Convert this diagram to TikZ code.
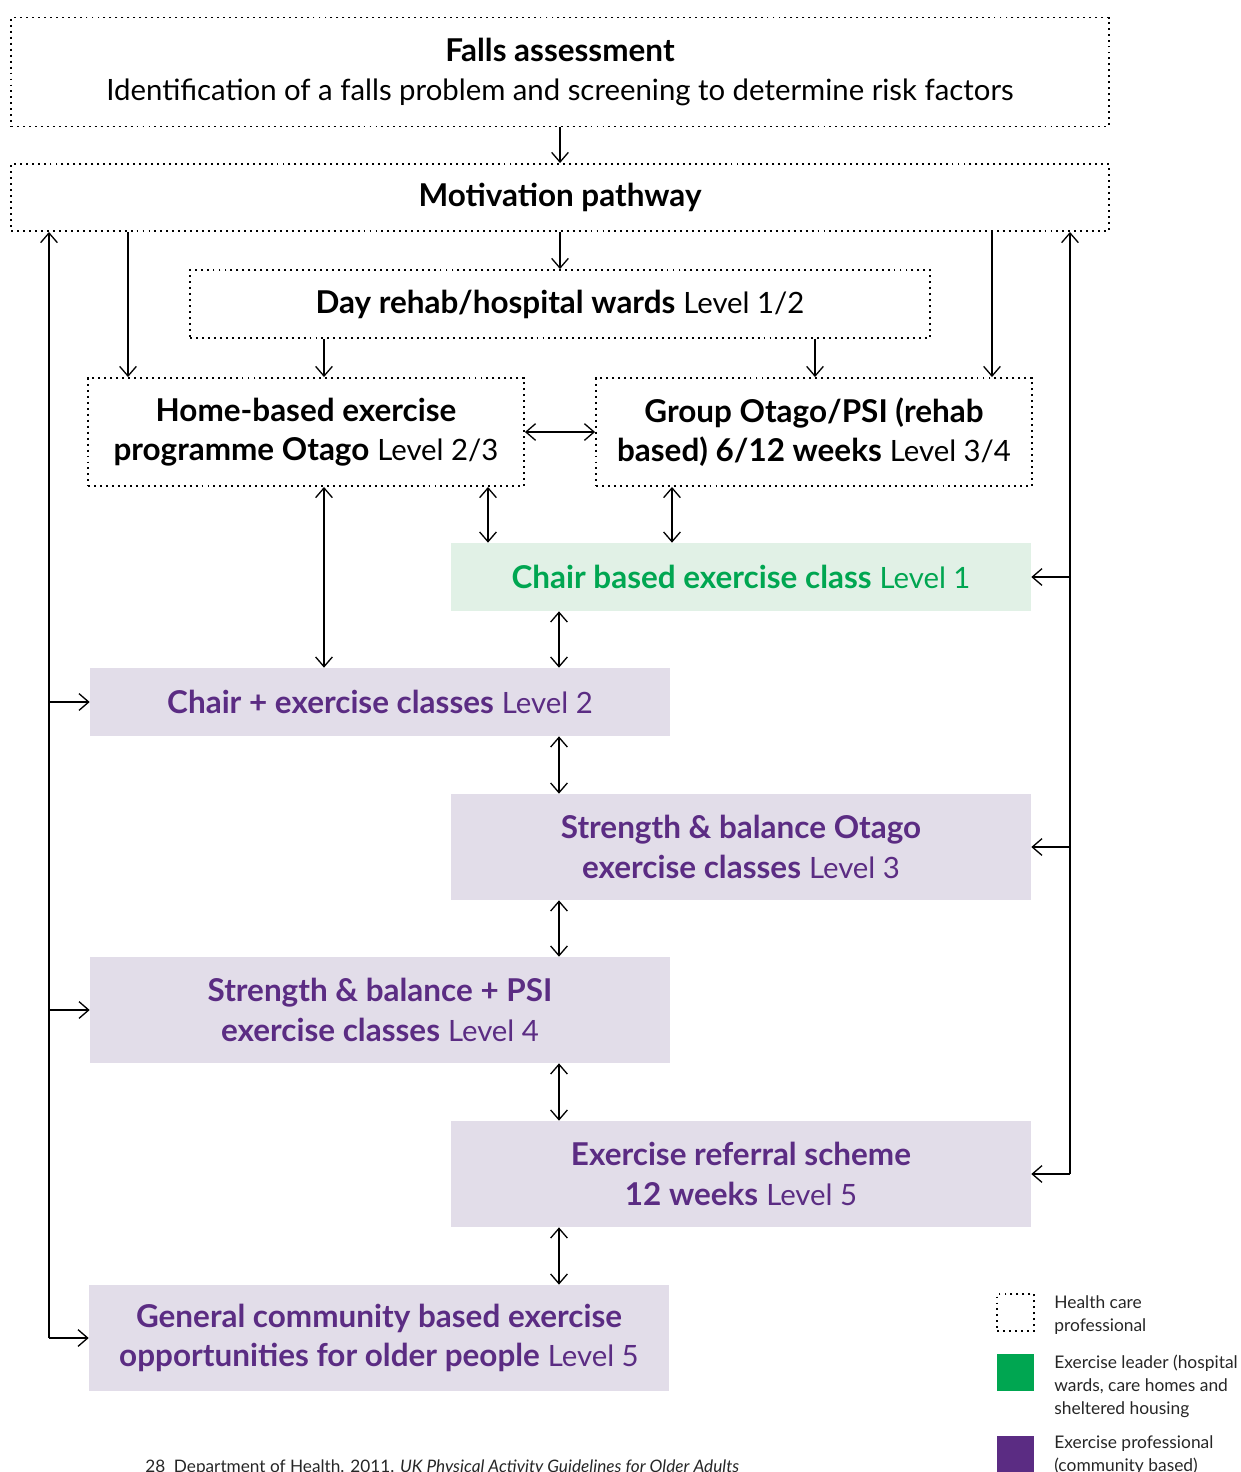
\documentclass[tikz,border=0pt]{standalone}
\usepackage{fontspec}
\setmainfont{Lato}
\usetikzlibrary{arrows.meta}
\definecolor{hgreen}{HTML}{00A651}
\definecolor{hgreenfill}{HTML}{E1F1E6}
\definecolor{hpurple}{HTML}{5B2C83}
\definecolor{hpurplefill}{HTML}{E2DDE9}
\newcommand{\lvtext}[1]{{\fontsize{16.7}{22.6}\selectfont #1}}
\begin{document}
\begin{tikzpicture}[x=0.02cm,y=-0.02cm,
  >={Straight Barb[length=5.5pt,width=9.5pt]},
  boxfont/.style={font=\fontsize{17.9}{22.6}\selectfont},
  hcp/.style={draw, line width=1.1pt, dash pattern=on 1.1pt off 2.3pt, rectangle, align=center, inner sep=0pt, boxfont},
  greenbox/.style={rectangle, fill=hgreenfill, text=hgreen, align=center, inner sep=0pt,
    minimum width=11.6cm, boxfont},
  purplebox/.style={rectangle, fill=hpurplefill, text=hpurple, align=center, inner sep=0pt,
    minimum width=11.6cm, boxfont},
  conn/.style={line width=0.75pt},
  legtext/.style={anchor=north west, align=left, inner sep=0pt, font=\fontsize{9.9}{13}\selectfont, text=black!85}
]
\useasboundingbox (0,0) rectangle (1241,1472);

% boxes
\node[hcp, minimum width=21.96cm, minimum height=2.18cm] (falls) at (560,72)
  {\textbf{Falls assessment}\\\lvtext{Identification of a falls problem and screening to determine risk factors}};
\node[hcp, minimum width=21.96cm, minimum height=1.34cm] (motiv) at (560,197.5)
  {\textbf{Motivation pathway}};
\node[hcp, minimum width=14.8cm, minimum height=1.36cm] (day) at (560,304)
  {\textbf{Day rehab/hospital wards} \lvtext{Level 1/2}};
\node[hcp, minimum width=8.72cm, minimum height=2.16cm] (home) at (306,432)
  {\textbf{Home-based exercise}\\\textbf{programme Otago} \lvtext{Level 2/3}};
\node[hcp, minimum width=8.72cm, minimum height=2.16cm] (group) at (814,432)
  {\textbf{Group Otago/PSI (rehab}\\\textbf{based) 6/12 weeks} \lvtext{Level 3/4}};
\node[greenbox, minimum height=1.36cm] (chairb) at (741,577)
  {\textbf{Chair based exercise class} \lvtext{Level 1}};
\node[purplebox, minimum height=1.36cm] (chairp) at (380,702)
  {\textbf{Chair + exercise classes} \lvtext{Level 2}};
\node[purplebox, minimum height=2.12cm] (sbo) at (741,847)
  {\textbf{Strength \& balance Otago}\\\textbf{exercise classes} \lvtext{Level 3}};
\node[purplebox, minimum height=2.12cm] (sbp) at (380,1010)
  {\textbf{Strength \& balance + PSI}\\\textbf{exercise classes} \lvtext{Level 4}};
\node[purplebox, minimum height=2.12cm] (ref) at (741,1174)
  {\textbf{Exercise referral scheme}\\\textbf{12 weeks} \lvtext{Level 5}};
\node[purplebox, minimum height=2.12cm] (gen) at (379,1338)
  {\textbf{General community based exercise}\\\textbf{opportunities for older people} \lvtext{Level 5}};

% x positions for connectors
\coordinate (xL) at (49,0);
\coordinate (xR) at (1070,0);
\coordinate (xa) at (128,0);
\coordinate (xb) at (992,0);
\coordinate (xc) at (324,0);
\coordinate (xd) at (815,0);
\coordinate (xe) at (488,0);
\coordinate (xf) at (672,0);
\coordinate (xm) at (559,0);

% connectors
\draw[conn,->] (falls.south) -- (motiv.north);
\draw[conn,->] (motiv.south) -- (day.north);
\draw[conn,->] (motiv.south -| xa) -- (home.north -| xa);
\draw[conn,->] (motiv.south -| xb) -- (group.north -| xb);
\draw[conn,->] (day.south -| xc) -- (home.north -| xc);
\draw[conn,->] (day.south -| xd) -- (group.north -| xd);
\draw[conn,<->] (home.east) -- (group.west);
\draw[conn,<->] (home.south -| xe) -- (chairb.north -| xe);
\draw[conn,<->] (group.south -| xf) -- (chairb.north -| xf);
\draw[conn,<->] (home.south -| xc) -- (chairp.north -| xc);
\draw[conn,<->] (chairb.south -| xm) -- (chairp.north -| xm);
\draw[conn,<->] (chairp.south -| xm) -- (sbo.north -| xm);
\draw[conn,<->] (sbo.south -| xm) -- (sbp.north -| xm);
\draw[conn,<->] (sbp.south -| xm) -- (ref.north -| xm);
\draw[conn,<->] (ref.south -| xm) -- (gen.north -| xm);

% left feedback line
\draw[conn,->] (gen.west -| xL) -- (motiv.south -| xL);
\draw[conn,->] (chairp.west -| xL) -- (chairp.west);
\draw[conn,->] (sbp.west -| xL) -- (sbp.west);
\draw[conn,->] (gen.west -| xL) -- (gen.west);

% right feedback line
\draw[conn,->] (ref.east -| xR) -- (motiv.south -| xR);
\draw[conn,->] (chairb.east -| xR) -- (chairb.east);
\draw[conn,->] (sbo.east -| xR) -- (sbo.east);
\draw[conn,->] (ref.east -| xR) -- (ref.east);

% legend
\node[draw, line width=1.1pt, dash pattern=on 1.1pt off 2.3pt, minimum size=0.74cm, inner sep=0pt] (leg1) at (1015.5,1312.5) {};
\node[fill=hgreen, minimum size=0.74cm, inner sep=0pt] (leg2) at (1015.5,1372.5) {};
\node[fill=hpurple, minimum size=0.74cm, inner sep=0pt] (leg3) at (1015.5,1454.5) {};
\node[legtext] (legt1) at (1054,1295.5) {Health care\\professional};
\node[legtext] (legt2) at (1054,1354.5) {Exercise leader (hospital\\wards, care homes and\\sheltered housing};
\node[legtext] (legt3) at (1054,1435.5) {Exercise professional\\(community based)};

% footnote
\node[anchor=north west, inner sep=0pt, font=\fontsize{9.8}{13}\selectfont, text=black!85] (foot) at (145,1459.5)
  {28\hspace{0.5em}Department of Health. 2011. \textit{UK Physical Activity Guidelines for Older Adults}};
\end{tikzpicture}
\end{document}
